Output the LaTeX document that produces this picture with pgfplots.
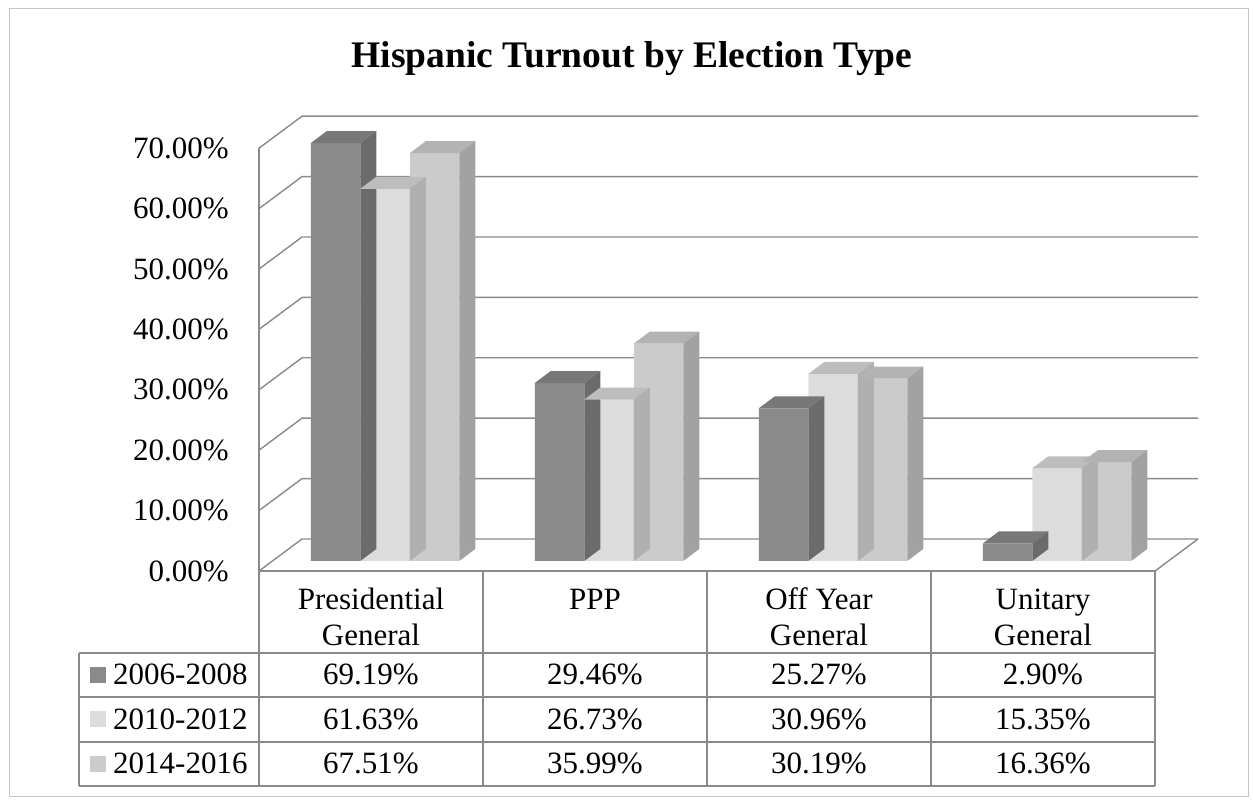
\documentclass[border=0pt]{standalone}
\usepackage{pgfplots}
\pgfplotsset{compat=1.18}
\usepackage{fontspec}
\setmainfont{Liberation Serif}
\newcommand\fs{\fontsize{31}{37}\selectfont}
\definecolor{fA}{HTML}{8A8A8A}
\definecolor{tA}{HTML}{787878}
\definecolor{sA}{HTML}{6B6B6B}
\definecolor{fB}{HTML}{DCDCDC}
\definecolor{tB}{HTML}{BDBDBD}
\definecolor{sB}{HTML}{B0B0B0}
\definecolor{fC}{HTML}{CBCBCB}
\definecolor{tC}{HTML}{B3B3B3}
\definecolor{sC}{HTML}{A2A2A2}
\definecolor{gridc}{HTML}{8A8A8A}
% #1 top colour, #2 side colour, #3 horizontal shift of the bar (pt)
\newcommand\drawcube[3]{%
  \pgfmathsetlengthmacro{\hh}{\barval*6.04pt}%
  \pgfsetfillcolor{#1}%
  \pgfpathmoveto{\pgfpoint{#3pt-24.75pt}{0pt}}%
  \pgfpathlineto{\pgfpoint{#3pt+24.75pt}{0pt}}%
  \pgfpathlineto{\pgfpoint{#3pt+40.75pt}{12pt}}%
  \pgfpathlineto{\pgfpoint{#3pt-8.75pt}{12pt}}%
  \pgfpathclose\pgfusepath{fill}%
  \pgfsetfillcolor{#2}%
  \pgfpathmoveto{\pgfpoint{#3pt+24.75pt}{0pt}}%
  \pgfpathlineto{\pgfpoint{#3pt+40.75pt}{12pt}}%
  \pgfpathlineto{\pgfpoint{#3pt+40.75pt}{12pt-\hh}}%
  \pgfpathlineto{\pgfpoint{#3pt+24.75pt}{-\hh}}%
  \pgfpathclose\pgfusepath{fill}%
}
\pgfdeclareplotmark{cubeA}{\drawcube{tA}{sA}{-49.5}}
\pgfdeclareplotmark{cubeB}{\drawcube{tB}{sB}{0}}
\pgfdeclareplotmark{cubeC}{\drawcube{tC}{sC}{49.5}}
\begin{document}
\begin{tikzpicture}[x=1pt,y=1pt]
\useasboundingbox (0,0) rectangle (1253,800);
\draw[gray!45, line width=1pt] (9,3) rectangle (1248,791);
% walls, grid and floor
\foreach \v in {0,10,...,70}{
  \draw[gridc, line width=1.4pt] (259,{229+6.04*\v}) -- (302,{261+6.04*\v}) -- (1198,{261+6.04*\v});
}
\draw[gridc, line width=1.4pt] (1155,229) -- (1198,261);
\draw[gridc, line width=1.4pt] (259,{229+6.04*70}) -- (259,14);
% table
\draw[gridc, line width=1.4pt] (259,229) -- (1155,229);
\draw[gridc, line width=1.4pt] (79,147) -- (1155,147);
\draw[gridc, line width=1.4pt] (79,103) -- (1155,103);
\draw[gridc, line width=1.4pt] (79,58) -- (1155,58);
\draw[gridc, line width=1.4pt] (79,14) -- (1155,14);
\draw[gridc, line width=1.4pt] (79,147) -- (79,14);
\foreach \xx in {483,707,931,1155}{
  \draw[gridc, line width=1.4pt] (\xx,229) -- (\xx,14);
}
\begin{axis}[
  at={(273pt,239pt)}, anchor=south west, scale only axis,
  width=896pt, height=422.8pt,
  xmin=-0.5, xmax=3.5, ymin=0, ymax=70,
  ybar=0pt, bar width=49.5pt,
  axis line style={draw=none}, major tick length=0pt,
  xtick=\empty, ytick={0,10,...,70},
  yticklabel={\pgfmathprintnumber[fixed,fixed zerofill,precision=2,assume math mode=true]{\tick}\%},
  yticklabel style={font=\fs, anchor=east, inner sep=0pt, xshift=-44pt, yshift=-10pt},
  clip=false,
  visualization depends on=rawy\as\barval,
]
\addplot[fill=fA, draw=none, mark=cubeA] coordinates {(0,69.19) (1,29.46) (2,25.27) (3,2.90)};
\addplot[fill=fB, draw=none, mark=cubeB] coordinates {(0,61.63) (1,26.73) (2,30.96) (3,15.35)};
\addplot[fill=fC, draw=none, mark=cubeC] coordinates {(0,67.51) (1,35.99) (2,30.19) (3,16.36)};
\end{axis}
% title
\node[font=\fontsize{37.5}{44}\selectfont\bfseries] at (632,741) {Hispanic Turnout by Election Type};
% header
\begin{scope}[every node/.style={font=\fs, anchor=base, inner sep=0pt}]
\node at (371,190) {Presidential}; \node at (371,154) {General};
\node at (595,190) {PPP};
\node at (819,190) {Off Year}; \node at (819,154) {General};
\node at (1043,190) {Unitary}; \node at (1043,154) {General};
\node at (371,115) {69.19\%}; \node at (595,115) {29.46\%}; \node at (819,115) {25.27\%}; \node at (1043,115) {2.90\%};
\node at (371,70.5) {61.63\%}; \node at (595,70.5) {26.73\%}; \node at (819,70.5) {30.96\%}; \node at (1043,70.5) {15.35\%};
\node at (371,26) {67.51\%}; \node at (595,26) {35.99\%}; \node at (819,26) {30.19\%}; \node at (1043,26) {16.36\%};
\node[anchor=base west] at (113,115) {2006-2008};
\node[anchor=base west] at (113,70.5) {2010-2012};
\node[anchor=base west] at (113,26) {2014-2016};
\end{scope}
\fill[fA] (90,117) rectangle (106,133);
\fill[fB] (90,72.5) rectangle (106,88.5);
\fill[fC] (90,28) rectangle (106,44);
\end{tikzpicture}
\end{document}
